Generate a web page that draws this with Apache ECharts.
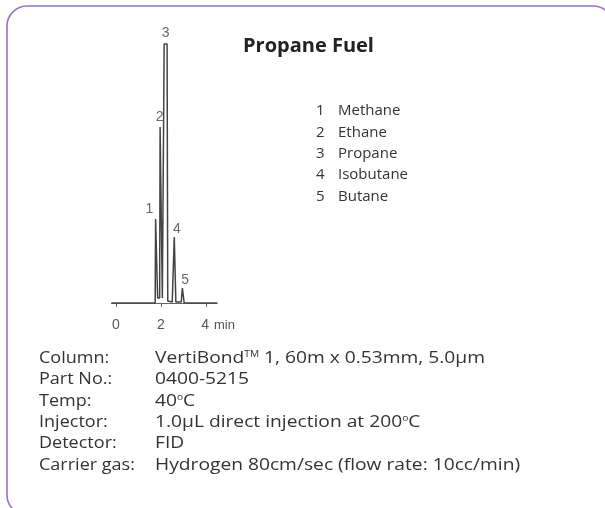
<!DOCTYPE html>
<html lang="en">
<head>
    <meta charset="UTF-8">
    <title>Propane Fuel</title>
    <script src="https://cdn.jsdelivr.net/npm/echarts@6/dist/echarts.min.js"></script>
    <style>
        html, body { margin: 0; padding: 0; background: #fff; overflow: hidden; }
    </style>
</head>
<body>
<div id="main" style="width: 605px;height:508px;"></div>
<script type="text/javascript">
    // chromatogram trace (time in min, signal in arbitrary units)
    var traceTime   = [-0.2, 1.74, 1.76, 1.83, 1.85, 1.94, 1.96, 2.03, 2.06, 2.12, 2.14, 2.27, 2.30, 2.50, 2.58, 2.59, 2.64, 2.66, 2.90, 2.93, 2.95, 3.01, 3.03, 4.5];
    var traceSignal = [0,    0,    84,   84,   5,    5,    176,  176,  5,    5,    259,  259,  2,    1,    1,    66,   66,   1,    1,    1,    15,   15,   0,    0];

    // peak numbers
    var peakTime   = [1.80, 1.98, 2.21, 2.62, 2.98];
    var peakHeight = [84, 176, 259, 66, 15];
    var peakLabel  = ['1', '2', '3', '4', '5'];
    var peakOffset = [[-7, -10], [-1, -10], [0, -11], [2, -8], [2, -8]];

    var tickValues = [0, 2, 4];
    var timeUnit = 'min';

    var title = 'Propane Fuel';
    var compounds = ['Methane', 'Ethane', 'Propane', 'Isobutane', 'Butane'];

    var specLabels = ['Column:', 'Part No.:', 'Temp:', 'Injector:', 'Detector:', 'Carrier gas:'];
    var specValues = [
        'VertiBond{sup|TM} 1, 60m x 0.53mm, 5.0µm',
        '0400-5215',
        '40{sup|o}C',
        '1.0µL direct injection at 200{sup|o}C',
        'FID',
        'Hydrogen 80cm/sec (flow rate: 10cc/min)'
    ];

    var txtFont = 'Open Sans';
    var txtColor = '#333';
    var supStyle = { fontSize: 9, fontFamily: txtFont, fill: txtColor, padding: [0, 0, 7, 0] };

    var myChart = echarts.init(document.getElementById('main'));

    var peakData = [];
    for (var i = 0; i < peakTime.length; i++) {
        peakData.push({
            value: [peakTime[i], peakHeight[i]],
            name: peakLabel[i],
            label: { offset: peakOffset[i] }
        });
    }

    var trace = [];
    for (var i = 0; i < traceTime.length; i++) {
        trace.push([traceTime[i], traceSignal[i]]);
    }

    var graphics = [];
    // rounded frame, right and bottom edges run off the picture
    graphics.push({
        type: 'rect',
        shape: { x: 7, y: 6, width: 606, height: 509, r: 20 },
        style: { fill: 'none', stroke: '#9b72c4', lineWidth: 1.6 },
        silent: true
    });
    graphics.push({
        type: 'text', x: 243, y: 46,
        style: { text: title, fontFamily: txtFont, fontWeight: 'bold', fontSize: 20, fill: '#222', verticalAlign: 'middle' }
    });
    for (var i = 0; i < compounds.length; i++) {
        var cy = 111 + i * 21.4;
        graphics.push({
            type: 'text', x: 316, y: cy,
            style: { text: String(i + 1), fontFamily: txtFont, fontSize: 15, fill: txtColor, verticalAlign: 'middle' }
        });
        graphics.push({
            type: 'text', x: 338, y: cy,
            style: { text: compounds[i], fontFamily: txtFont, fontSize: 15, fill: txtColor, verticalAlign: 'middle' }
        });
    }
    for (var i = 0; i < specLabels.length; i++) {
        var sy = 358 + i * 21.4;
        graphics.push({
            type: 'text', x: 39, y: sy, scaleX: 1.06,
            style: { text: specLabels[i], fontFamily: txtFont, fontSize: 17, fill: txtColor, verticalAlign: 'middle' }
        });
        graphics.push({
            type: 'text', x: 155, y: sy, scaleX: 1.13,
            style: {
                text: specValues[i], fontFamily: txtFont, fontSize: 17, fill: txtColor, verticalAlign: 'middle',
                rich: { sup: supStyle }
            }
        });
    }

    myChart.setOption({
        animation: false,
        grid: { left: 111.5, right: 387.75, top: 33, bottom: 197 },
        xAxis: {
            type: 'value',
            min: -0.2,
            max: 4.5,
            axisLine: { lineStyle: { color: '#666', width: 1 } },
            axisTick: { customValues: tickValues, length: 4, lineStyle: { color: '#666' } },
            axisLabel: {
                customValues: tickValues,
                color: '#555',
                fontFamily: 'Liberation Sans',
                fontSize: 14,
                margin: 7,
                // last label carries the unit, keep its number near the tick
                formatter: function (v) {
                    return v === tickValues[tickValues.length - 1] ? '{pad|}{n|' + v + '}{u|' + timeUnit + '}' : String(v);
                },
                rich: {
                    pad: { width: 24 },
                    n: { color: '#555', fontFamily: 'Liberation Sans', fontSize: 14 },
                    u: { color: '#555', fontFamily: 'Liberation Sans', fontSize: 13, padding: [0, 0, 0, 5] }
                }
            },
            splitLine: { show: false }
        },
        yAxis: {
            type: 'value',
            min: -8,
            max: 270,
            show: false
        },
        series: [
            {
                type: 'line',
                data: trace,
                symbol: 'none',
                lineStyle: { color: '#444', width: 1.5 }
            },
            {
                type: 'scatter',
                data: peakData,
                symbolSize: 0,
                label: {
                    show: true,
                    position: 'inside',
                    formatter: '{b}',
                    color: '#444',
                    fontFamily: 'Liberation Sans',
                    fontSize: 14
                }
            }
        ],
        graphic: graphics
    });
</script>
</body>
</html>
